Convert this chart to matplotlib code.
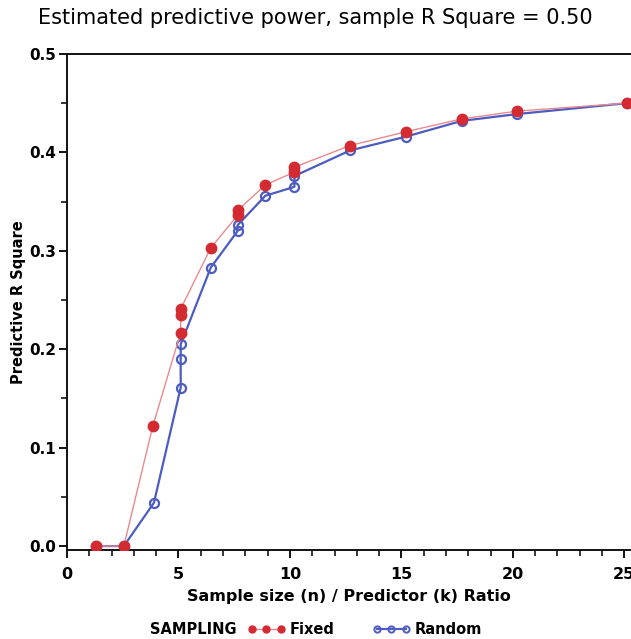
import matplotlib
matplotlib.use("Agg")
import matplotlib.pyplot as plt
from matplotlib.ticker import MultipleLocator, FormatStrFormatter
from matplotlib.lines import Line2D

# Data
fixed_x = [1.3, 2.55, 3.85, 5.1, 5.1, 5.1, 6.45, 7.65, 7.65, 8.9, 10.2, 10.2, 12.7, 15.2, 17.7, 20.2, 25.1]
fixed_y = [0.000, 0.000, 0.122, 0.217, 0.235, 0.241, 0.303, 0.336, 0.341, 0.367, 0.380, 0.385, 0.407, 0.421, 0.434, 0.442, 0.450]

random_x = [1.3, 2.55, 3.9, 5.1, 5.1, 5.1, 6.45, 7.65, 7.65, 8.9, 10.2, 10.2, 12.7, 15.2, 17.7, 20.2, 25.1]
random_y = [0.000, 0.000, 0.044, 0.161, 0.190, 0.205, 0.283, 0.320, 0.326, 0.356, 0.365, 0.376, 0.402, 0.416, 0.432, 0.439, 0.450]

title = "Estimated predictive power, sample R Square = 0.50"
xlabel = "Sample size (n) / Predictor (k) Ratio"
ylabel = "Predictive R Square"
legend_title = "SAMPLING"
series_names = ["Fixed", "Random"]

RED = "#d42a32"
RED_LINE = "#e98a8f"
BLUE = "#4d5cc0"

fig = plt.figure(figsize=(6.31, 6.39), dpi=100)
ax = fig.add_axes([67 / 631, 89 / 639, 1 - 67 / 631, (550 - 54) / 639])

ax.plot(random_x, random_y, color=BLUE, lw=1.6, marker="o", ms=6.5,
        mfc="none", mec=BLUE, mew=1.6, zorder=3)
ax.plot(fixed_x, fixed_y, color=RED_LINE, lw=1.0, marker="o", ms=7.5,
        mfc=RED, mec=RED, zorder=4)

ax.set_xlim(0, 25.3)
ax.set_ylim(-0.004, 0.5)
ax.xaxis.set_major_locator(MultipleLocator(5))
ax.xaxis.set_minor_locator(MultipleLocator(1))
ax.yaxis.set_major_locator(MultipleLocator(0.1))
ax.yaxis.set_minor_locator(MultipleLocator(0.05))
ax.yaxis.set_major_formatter(FormatStrFormatter("%.1f"))

for s in ["left", "bottom", "top"]:
    ax.spines[s].set_linewidth(1.4)
    ax.spines[s].set_color("#111111")
ax.spines["right"].set_visible(False)

ax.tick_params(axis="both", which="major", direction="out", length=6, width=1.3,
               labelsize=11.5, pad=4)
ax.tick_params(axis="y", which="major", labelsize=11, pad=2)
ax.tick_params(axis="x", which="major", pad=6)
ax.tick_params(axis="both", which="minor", direction="out", length=4, width=1.1)
for lab in ax.get_xticklabels() + ax.get_yticklabels():
    lab.set_fontweight("bold")

ax.set_xlabel(xlabel, fontsize=11.5, fontweight="bold", labelpad=5)
ax.set_ylabel(ylabel, fontsize=10.5, fontweight="bold")
ax.yaxis.set_label_coords(-0.072, 0.5)

fig.text(0.5, 0.972, title, ha="center", va="center", fontsize=15)

# Legend row
fig.text(150 / 631, 9 / 639, legend_title, ha="left", va="center",
         fontsize=10.5, fontweight="bold")
handles = [
    Line2D([], [], color=RED_LINE, lw=1.0, marker="o", ms=5, mfc=RED, mec=RED),
    Line2D([], [], color=BLUE, lw=1.6, marker="o", ms=4.5, mfc="none", mec=BLUE, mew=1.4),
]
fig.legend(handles, series_names, loc="center left", bbox_to_anchor=(240 / 631, 9 / 639),
           ncol=2, frameon=False, numpoints=3, handlelength=2.6, handletextpad=0.3,
           columnspacing=2.6, borderpad=0, prop={"size": 10.5, "weight": "bold"})

fig.savefig("out.png", dpi=100, facecolor="white")
